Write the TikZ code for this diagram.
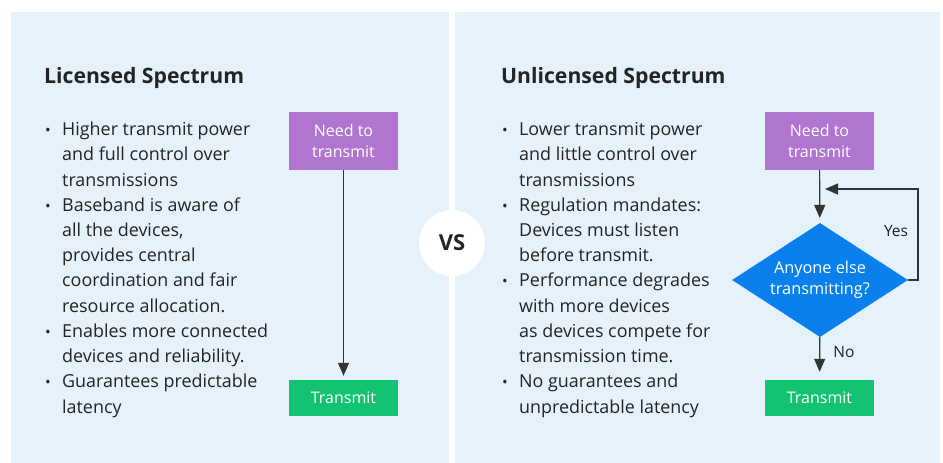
\documentclass[tikz,border=0pt]{standalone}
\usepackage{fontspec}
\setmainfont{Open Sans}
\usetikzlibrary{arrows.meta,shapes.geometric}

\definecolor{panelbg}{HTML}{E5F1FB}
\definecolor{inkdark}{HTML}{242424}
\definecolor{boxpurple}{HTML}{AF75CF}
\definecolor{boxgreen}{HTML}{13C371}
\definecolor{boxblue}{HTML}{0A80EC}
\definecolor{linegray}{HTML}{333333}

\tikzset{
  panel/.style={fill=panelbg, draw=none},
  heading/.style={anchor=base west, inner sep=0pt, text=inkdark, font=\fontsize{21.2}{25}\selectfont\bfseries},
  bodyline/.style={anchor=base west, inner sep=0pt, text=inkdark, font=\fontsize{17.9}{21}\selectfont},
  bulletdot/.style={anchor=base, inner sep=0pt, text=inkdark, font=\fontsize{15}{21}\selectfont},
  flowbox/.style={rectangle, inner sep=0pt, minimum width=109pt, text=white,
    align=center, font=\fontsize{16}{21}\selectfont},
  startbox/.style={flowbox, fill=boxpurple, minimum height=58pt},
  endbox/.style={flowbox, fill=boxgreen, minimum height=36pt},
  decision/.style={diamond, aspect=1.54, fill=boxblue, inner sep=0pt, minimum width=176pt,
    minimum height=114pt, text=white, align=center, font=\fontsize{16.3}{21}\selectfont},
  flowarrow/.style={draw=linegray, line width=1.2pt, -{Triangle[length=13pt,width=11pt]}},
  edgelabel/.style={inner sep=0pt, text=inkdark, font=\fontsize{15.5}{19}\selectfont},
}

\begin{document}
\begin{tikzpicture}[x=1pt, y=-1pt]
  \useasboundingbox (0,0) rectangle (943,463);
  \fill[white] (0,0) rectangle (943,463);

  % two panels and the "vs" badge between them
  \fill[panel] (11,12) rectangle (449,463);
  \fill[panel] (455,12) rectangle (940,463);
  \node[circle, fill=white, minimum size=66pt, inner sep=0pt,
        font=\fontsize{22}{26}\selectfont\bfseries, text=inkdark] (vs) at (452,243) {VS};

  % ---------------- licensed spectrum ----------------
  \node[heading] (lhead) at (44,83) {Licensed Spectrum};

  \foreach \n/\y in {1/135, 2/211, 3/337, 4/387}
    \node[bulletdot] (lb\n) at (48,\y) {•};

  \foreach \n/\y/\t in {
      1/135/{Higher transmit power},
      2/160/{and full control over},
      3/186/{transmissions},
      4/211/{Baseband is aware of},
      5/236/{all the devices,},
      6/261/{provides central},
      7/286/{coordination and fair},
      8/312/{resource allocation.},
      9/337/{Enables more connected},
      10/362/{devices and reliability.},
      11/387/{Guarantees predictable},
      12/413/{latency}}
    \node[bodyline] (lt\n) at (62,\y) {\t};

  \node[startbox] (lneed) at (343.5,141) {Need to\\transmit};
  \node[endbox] (ltx) at (343.5,398) {Transmit};
  \draw[flowarrow, shorten >=4pt] (lneed) -- (ltx);

  % ---------------- unlicensed spectrum ----------------
  \node[heading] (rhead) at (501,83) {Unlicensed Spectrum};

  \foreach \n/\y in {1/135, 2/211, 3/286, 4/387}
    \node[bulletdot] (rb\n) at (505,\y) {•};

  \foreach \n/\y/\t in {
      1/135/{Lower transmit power},
      2/160/{and little control over},
      3/186/{transmissions},
      4/211/{Regulation mandates:},
      5/236/{Devices must listen},
      6/261/{before transmit.},
      7/286/{Performance degrades},
      8/312/{with more devices},
      9/337/{as devices compete for},
      10/362/{transmission time.},
      11/387/{No guarantees and},
      12/413/{unpredictable latency}}
    \node[bodyline] (rt\n) at (519,\y) {\t};

  \node[startbox] (rneed) at (819.5,141) {Need to\\transmit};
  \node[decision] (rask) at (820,280) {Anyone else\\transmitting?};
  \node[endbox] (rtx) at (819.5,398) {Transmit};

  \coordinate (loopR) at (918,280);
  \coordinate (loopT) at (918,189);
  \coordinate (loopEnd) at (825,189);

  \draw[flowarrow, shorten >=5pt] (rneed) -- (rask);
  \draw[flowarrow, shorten >=8pt] (rask) -- (rtx);
  \draw[flowarrow] (rask.east) -- (loopR) -- (loopT) -- (loopEnd);

  \node[edgelabel, anchor=base] (yes) at (896,236) {Yes};
  \node[edgelabel, anchor=base] (no) at (844,357) {No};
\end{tikzpicture}
\end{document}
